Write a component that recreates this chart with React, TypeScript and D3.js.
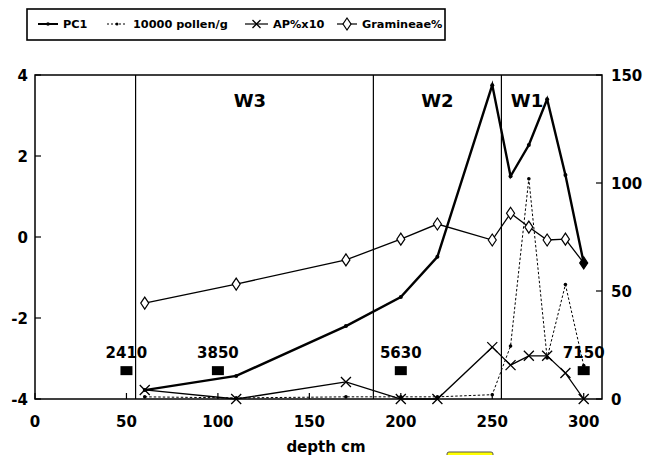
import React from "react";
import * as d3 from "d3";

const depths = [60, 110, 170, 200, 220, 250, 260, 270, 280, 290, 300];
const pc1 = [-3.78, -3.43, -2.2, -1.48, -0.49, 3.75, 1.5, 2.27, 3.4, 1.53, -0.64];
const pollen = [1, 0.5, 1, 1, 1, 2, 24.5, 102, 19, 53, 15.5];
const apx10 = [4.2, 0, 7.9, 0, 0, 24, 15.7, 20, 20, 12, 0];
const gramineae = [44.4, 53.2, 64.4, 74, 81, 73.6, 86, 79.6, 73.6, 74, 63];

const zoneBounds = [55, 185, 255];
const zoneLabels = [
  { name: "W3", x: 117.5 },
  { name: "W2", x: 220 },
  { name: "W1", x: 269 },
];
const dateDepths = [50, 100, 200, 300];
const dateLabels = ["2410", "3850", "5630", "7150"];
const dateLevel = -3.3;

const xTicks = [0, 50, 100, 150, 200, 250, 300];
const leftTicks = [-4, -2, 0, 2, 4];
const rightTicks = [0, 50, 100, 150];

const FONT = "'DejaVu Sans', sans-serif";

export default function App() {
  const W = 653, H = 455;
  const x = d3.scaleLinear().domain([0, 310]).range([35, 602]);
  const yL = d3.scaleLinear().domain([-4, 4]).range([399, 75]);
  const yR = d3.scaleLinear().domain([0, 150]).range([399, 75]);

  const lineL = d3.line<number>().x((_, i) => x(depths[i])).y((v) => yL(v));
  const lineR = d3.line<number>().x((_, i) => x(depths[i])).y((v) => yR(v));

  const xMark = (cx: number, cy: number, s = 5, key?: any) => (
    <path key={key} d={`M${cx - s},${cy - s}L${cx + s},${cy + s}M${cx - s},${cy + s}L${cx + s},${cy - s}`} stroke="#000" strokeWidth={1.3} fill="none" />
  );
  const diamond = (cx: number, cy: number, fill = "#fff", key?: any) => (
    <path key={key} d={`M${cx},${cy - 6}L${cx + 4},${cy}L${cx},${cy + 6}L${cx - 4},${cy}Z`} stroke="#000" strokeWidth={1.2} fill={fill} />
  );

  return (
    <svg width={W} height={H} style={{ position: "absolute", left: 0, top: 0, background: "#fff" }} fontFamily={FONT}>
      <rect width={W} height={H} fill="#fff" />
      {/* Legend */}
      <g>
        <rect x={27} y={9} width={418} height={31} fill="#fff" stroke="#000" strokeWidth={1.6} />
        <line x1={38} x2={58} y1={24} y2={24} stroke="#000" strokeWidth={2} />
        <circle cx={48} cy={24} r={1.8} fill="#000" />
        <text x={63} y={28} fontSize={11.3} fontWeight="bold">PC1</text>
        <line x1={107} x2={127} y1={24} y2={24} stroke="#000" strokeWidth={1} strokeDasharray="2,2" />
        <circle cx={117} cy={24} r={1.5} fill="#000" />
        <text x={133} y={28} fontSize={11.3} fontWeight="bold">10000 pollen/g</text>
        <line x1={245} x2={268} y1={24} y2={24} stroke="#000" strokeWidth={1.2} />
        {xMark(256.5, 24, 4)}
        <text x={273} y={28} fontSize={11.3} fontWeight="bold">AP%x10</text>
        <line x1={337} x2={357} y1={24} y2={24} stroke="#000" strokeWidth={1.2} />
        {diamond(347, 24)}
        <text x={362} y={28} fontSize={11.3} fontWeight="bold">Gramineae%</text>
      </g>

      {/* Frame */}
      <rect x={x(0)} y={75} width={x(310) - x(0)} height={399 - 75} fill="none" stroke="#000" strokeWidth={1.5} />

      {/* Zone boundaries */}
      {zoneBounds.map((b) => (
        <line key={b} x1={x(b)} x2={x(b)} y1={75} y2={399} stroke="#000" strokeWidth={1.2} />
      ))}
      {zoneLabels.map((z) => (
        <text key={z.name} x={x(z.x)} y={107} fontSize={18} fontWeight="bold" textAnchor="middle">{z.name}</text>
      ))}

      {/* Ticks: x */}
      {xTicks.map((t) => (
        <g key={"x" + t}>
          <line x1={x(t)} x2={x(t)} y1={399} y2={393} stroke="#000" strokeWidth={1.2} />
          <text x={x(t)} y={427} fontSize={15} fontWeight="bold" textAnchor="middle">{t}</text>
        </g>
      ))}
      {leftTicks.map((t) => (
        <g key={"l" + t}>
          <line x1={35} x2={41} y1={yL(t)} y2={yL(t)} stroke="#000" strokeWidth={1.2} />
          <text x={28} y={yL(t) + 5.5} fontSize={15} fontWeight="bold" textAnchor="end">{t}</text>
        </g>
      ))}
      {rightTicks.map((t) => (
        <g key={"r" + t}>
          <line x1={596} x2={602} y1={yR(t)} y2={yR(t)} stroke="#000" strokeWidth={1.2} />
          <text x={611} y={yR(t) + 5.5} fontSize={15} fontWeight="bold" textAnchor="start">{t}</text>
        </g>
      ))}
      <text x={326} y={452} fontSize={15} fontWeight="bold" textAnchor="middle">depth cm</text>

      {/* Radiocarbon dates */}
      {dateDepths.map((d, i) => (
        <g key={"d" + d}>
          <rect x={x(d) - 6} y={yL(dateLevel) - 4.5} width={12} height={9} fill="#000" />
          <text x={x(d)} y={yL(dateLevel) - 13} fontSize={15} fontWeight="bold" textAnchor="middle">{dateLabels[i]}</text>
        </g>
      ))}

      {/* Gramineae% */}
      <path d={lineR(gramineae) || ""} fill="none" stroke="#000" strokeWidth={1.3} />
      {/* AP%x10 */}
      <path d={lineR(apx10) || ""} fill="none" stroke="#000" strokeWidth={1.3} />
      {apx10.map((v, i) => xMark(x(depths[i]), yR(v), 5, "ap" + i))}
      {/* pollen */}
      <path d={lineR(pollen) || ""} fill="none" stroke="#000" strokeWidth={1} strokeDasharray="2.5,2" />
      {pollen.map((v, i) => (
        <circle key={"p" + i} cx={x(depths[i])} cy={yR(v)} r={1.8} fill="#000" />
      ))}
      {/* PC1 */}
      <path d={lineL(pc1) || ""} fill="none" stroke="#000" strokeWidth={2.4} />
      {pc1.map((v, i) => (
        <circle key={"c" + i} cx={x(depths[i])} cy={yL(v)} r={2} fill="#000" />
      ))}
      {gramineae.map((v, i) => diamond(x(depths[i]), yR(v), i === gramineae.length - 1 ? "#000" : "#fff", "g" + i))}

      {/* yellow marker at bottom */}
      <rect x={447} y={452} width={46} height={10} rx={2} fill="#ffff00" stroke="#555" strokeWidth={1} />
    </svg>
  );
}
